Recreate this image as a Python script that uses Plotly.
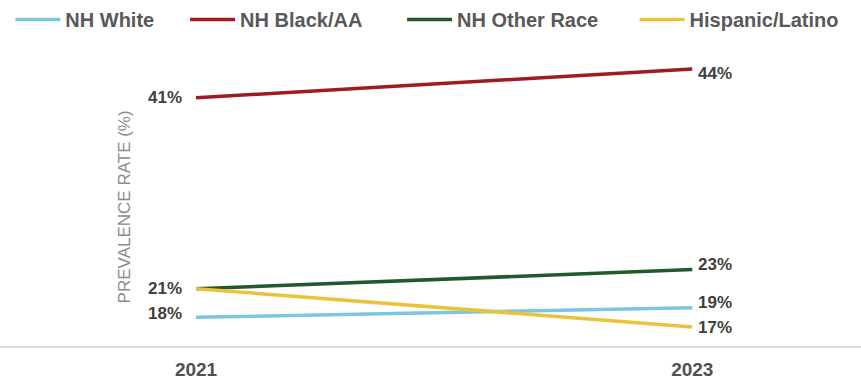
import plotly.graph_objects as go

# Survey years and prevalence rates (%) by race/ethnicity group
years = [2021, 2023]
groups = ["NH White", "NH Black/AA", "NH Other Race", "Hispanic/Latino"]
nh_white = [18, 19]
nh_black = [41, 44]
nh_other = [21, 23]
hispanic = [21, 17]
colors = ["#7cc6df", "#9e1b22", "#1f5a2c", "#e8c33c"]

series = [nh_white, nh_black, nh_other, hispanic]
legend_ids = ["legend", "legend2", "legend3", "legend4"]
legend_x = [0.012, 0.215, 0.467, 0.737]

FONT = "Liberation Sans, Arial, sans-serif"
LABEL_COLOR = "#404040"

fig = go.Figure()
for name, vals, col, lg in zip(groups, series, colors, legend_ids):
    fig.add_trace(go.Scatter(
        x=years, y=vals, mode="lines", name=name,
        line=dict(color=col, width=3.5), legend=lg,
        hoverinfo="skip",
    ))

# Value labels at each end of the lines (2021 shared label for 21%)
left_labels = [(nh_black[0], 0), (nh_other[0], 0), (nh_white[0], 4)]
right_labels = [(nh_black[1], -4), (nh_other[1], 5), (nh_white[1], 5), (hispanic[1], -1)]
for v, dy in left_labels:
    fig.add_annotation(x=years[0], y=v, text=f"{v}%", showarrow=False,
                       xanchor="right", xshift=-12, yshift=dy,
                       font=dict(family=FONT, size=17, color=LABEL_COLOR, weight="bold"))
for v, dy in right_labels:
    fig.add_annotation(x=years[1], y=v, text=f"{v}%", showarrow=False,
                       xanchor="left", xshift=4, yshift=dy,
                       font=dict(family=FONT, size=17, color=LABEL_COLOR, weight="bold"))

# Vertical axis title
fig.add_annotation(xref="paper", yref="paper", x=113 / 861, y=0.47,
                   text="PREVALENCE RATE (%)", textangle=-90, showarrow=False,
                   font=dict(family=FONT, size=17, color="#8c8c8c"))

legend_style = dict(orientation="h", yref="container", y=1.0, yanchor="top",
                    xanchor="left", bgcolor="rgba(0,0,0,0)", itemwidth=45,
                    font=dict(family=FONT, size=20, color="#595959", weight="bold"))
layout_legends = {}
for lg, lx in zip(legend_ids, legend_x):
    layout_legends[lg] = dict(x=lx, **legend_style)

fig.update_layout(
    width=861, height=384,
    margin=dict(l=0, r=0, t=50, b=38),
    paper_bgcolor="white", plot_bgcolor="white",
    showlegend=True,
    xaxis=dict(range=[2020.21, 2023.68], tickvals=years, ticktext=[str(y) for y in years],
               showgrid=False, zeroline=False, showline=True, linecolor="#d9d9d9", linewidth=1.5,
               ticks="", ticklabelstandoff=5,
               tickfont=dict(family=FONT, size=19, color="#505050", weight="bold"),
               fixedrange=True),
    yaxis=dict(range=[15, 46], showgrid=False, zeroline=False, showticklabels=False,
               showline=False, fixedrange=True),
    **layout_legends,
)

fig.write_html("out.html")
